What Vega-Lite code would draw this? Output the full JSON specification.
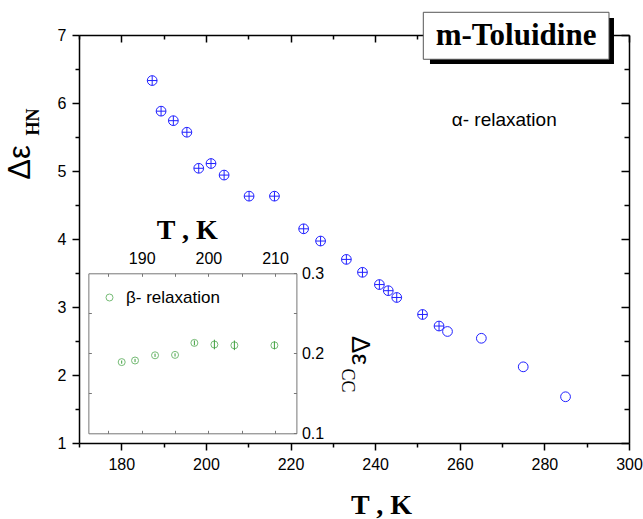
{
"$schema":"https://vega.github.io/schema/vega-lite/v6.json",
"width":550,"height":408,"autosize":{"type":"none"},
"padding":{"left":79,"top":35,"right":14,"bottom":76},
"background":"white",
"config":{"view":{"stroke":null},"font":"Liberation Sans","axis":{"grid":false,"labelFont":"Liberation Sans","labelColor":"black","domainColor":"black","tickColor":"black","labelFlush":false,"labelOverlap":false,"titleColor":"black"}},
"datasets":{
"alpha":[
{"T":187.3,"eps":6.33,"series":"1"},{"T":189.4,"eps":5.88,"series":"1"},{"T":192.3,"eps":5.74,"series":"1"},{"T":195.5,"eps":5.57,"series":"1"},{"T":198.3,"eps":5.04,"series":"1"},{"T":201.2,"eps":5.11,"series":"1"},{"T":204.3,"eps":4.94,"series":"1"},{"T":210.2,"eps":4.63,"series":"1"},{"T":216.2,"eps":4.63,"series":"1"},{"T":223.1,"eps":4.15,"series":"1"},{"T":227.1,"eps":3.97,"series":"1"},{"T":233.2,"eps":3.70,"series":"1"},{"T":237.0,"eps":3.51,"series":"1"},{"T":241.0,"eps":3.33,"series":"1"},{"T":243.1,"eps":3.24,"series":"1"},{"T":245.1,"eps":3.14,"series":"1"},{"T":251.2,"eps":2.89,"series":"1"},{"T":255.1,"eps":2.72,"series":"1"},{"T":257.1,"eps":2.64,"series":"2"},{"T":265.1,"eps":2.54,"series":"2"},{"T":275.0,"eps":2.12,"series":"2"},{"T":285.0,"eps":1.68,"series":"2"}
],
"beta":[
{"T":187.0,"eps":0.189,"err":0.002,"series":"β- relaxation"},{"T":189.0,"eps":0.191,"err":0.002,"series":"β- relaxation"},{"T":192.0,"eps":0.1975,"err":0.002,"series":"β- relaxation"},{"T":195.0,"eps":0.198,"err":0.002,"series":"β- relaxation"},{"T":197.9,"eps":0.213,"err":0.003,"series":"β- relaxation"},{"T":200.9,"eps":0.211,"err":0.006,"series":"β- relaxation"},{"T":203.9,"eps":0.210,"err":0.006,"series":"β- relaxation"},{"T":209.9,"eps":0.210,"err":0.005,"series":"β- relaxation"}
]
},
"layer":[
{"data":{"values":[{}]},"mark":{"type":"point","opacity":0},
 "encoding":{
  "x":{"datum":170,"type":"quantitative","scale":{"domain":[170,300],"nice":false,"zero":false},
    "axis":{"orient":"bottom","values":[170,180,190,200,210,220,230,240,250,260,270,280,290,300],"labelExpr":"datum.value % 20 === 0 ? format(datum.value,'d') : ''","tickSize":{"condition":{"test":"datum.value % 20 === 0","value":7},"value":4},"labelPadding":6,"labelFontSize":16,"domainWidth":1.5,"tickWidth":1.5,"title":"T , K","titleFont":"Liberation Serif","titleFontSize":28,"titleFontWeight":"bold","titleX":302,"titleY":70,"titleAlign":"center","titleBaseline":"alphabetic"}},
  "y":{"datum":1,"type":"quantitative","scale":{"domain":[1,7],"nice":false,"zero":false},
    "axis":{"orient":"left","values":[1,1.5,2,2.5,3,3.5,4,4.5,5,5.5,6,6.5,7],"labelExpr":"datum.value % 1 === 0 ? format(datum.value,'d') : ''","tickSize":{"condition":{"test":"datum.value % 1 === 0","value":7},"value":4},"labelPadding":6,"labelFontSize":16,"domainWidth":1.5,"tickWidth":1.5,"title":"Δε","titleFont":"Liberation Sans","titleFontSize":31,"titleFontWeight":"normal","titleAngle":270,"titleX":-59,"titleY":127,"titleAlign":"center","titleBaseline":"middle"}}
 }},
{"data":{"values":[{}]},"mark":{"type":"point","opacity":0},
 "encoding":{
  "x":{"datum":170,"type":"quantitative","scale":{"domain":[170,300],"nice":false,"zero":false},
    "axis":{"orient":"top","values":[170,180,190,200,210,220,230,240,250,260,270,280,290,300],"labels":false,"title":null,"domainWidth":1.5,"tickWidth":1.5,"tickSize":{"condition":{"test":"datum.value % 20 === 0","value":-7},"value":-4}}},
  "y":{"datum":1,"type":"quantitative","scale":{"domain":[1,7],"nice":false,"zero":false},
    "axis":{"orient":"right","values":[1,1.5,2,2.5,3,3.5,4,4.5,5,5.5,6,6.5,7],"labels":false,"title":null,"domainWidth":1.5,"tickWidth":1.5,"tickSize":{"condition":{"test":"datum.value % 1 === 0","value":-8},"value":-5}}}
 }},
{"data":{"values":[{}]},"mark":{"type":"point","opacity":0},
 "encoding":{
  "x":{"datum":190,"type":"quantitative","scale":{"domain":[182,213.2],"range":[9.36,217.4],"nice":false,"zero":false},
    "axis":{"orient":"top","offset":-238.3,"values":[185,190,195,200,205,210],"labelExpr":"datum.value % 10 === 0 ? format(datum.value,'d') : ''","tickSize":-3,"labelPadding":10,"labelFontSize":16,"domainColor":"#777777","tickColor":"#777777","domainWidth":1,"tickWidth":1,"title":"T , K","titleFont":"Liberation Serif","titleFontSize":28,"titleFontWeight":"bold","titleX":107.7,"titleY":-35,"titleAlign":"center","titleBaseline":"alphabetic"}},
  "y":{"datum":0.2,"type":"quantitative","scale":{"domain":[0.1,0.3],"range":[398.3,238.3],"nice":false,"zero":false},
    "axis":{"orient":"right","offset":-332.6,"values":[0.1,0.15,0.2,0.25,0.3],"labelExpr":"abs(datum.value*10-round(datum.value*10))<0.001 ? format(datum.value,'.1f') : ''","tickSize":-3,"labelPadding":8,"labelFontSize":16,"labelBaseline":"middle","domainColor":"#777777","tickColor":"#777777","domainWidth":1,"tickWidth":1,"title":null}}
 }},
{"data":{"values":[{}]},"mark":{"type":"point","opacity":0},
 "encoding":{
  "x":{"datum":190,"type":"quantitative","scale":{"domain":[182,213.2],"range":[9.36,217.4],"nice":false,"zero":false},
    "axis":{"orient":"bottom","offset":-9.7,"values":[185,190,195,200,205,210],"labels":false,"title":null,"tickSize":-3,"domainColor":"#777777","tickColor":"#777777","domainWidth":1,"tickWidth":1}},
  "y":{"datum":0.2,"type":"quantitative","scale":{"domain":[0.1,0.3],"range":[398.3,238.3],"nice":false,"zero":false},
    "axis":{"orient":"left","offset":-9.36,"values":[0.15,0.2,0.25],"labels":false,"title":null,"tickSize":-3,"domainColor":"#777777","tickColor":"#777777","domainWidth":1,"tickWidth":1}}
 }},
{"layer":[
 {"data":{"name":"alpha"},"mark":{"type":"point","filled":false,"size":95,"strokeWidth":1,"color":"#2020ff","opacity":1},
  "encoding":{
   "x":{"field":"T","type":"quantitative","scale":{"domain":[170,300],"nice":false,"zero":false},"axis":null},
   "y":{"field":"eps","type":"quantitative","scale":{"domain":[1,7],"nice":false,"zero":false},"axis":null},
   "shape":{"field":"series","type":"nominal","scale":{"domain":["1","2"],"range":["M-1,0A1,1,0,1,1,1,0A1,1,0,1,1,-1,0ZM-1,0L1,0M0,-1L0,1","circle"]},"legend":null}
  }},
 {"data":{"values":[{}]},"mark":{"type":"text","text":"α- relaxation","font":"Liberation Sans","fontSize":19,"align":"left","baseline":"alphabetic","color":"black"},
  "encoding":{"x":{"datum":258.1,"type":"quantitative","scale":{"domain":[170,300],"nice":false,"zero":false},"axis":null},"y":{"datum":5.662,"type":"quantitative","scale":{"domain":[1,7],"nice":false,"zero":false},"axis":null}}},
 {"data":{"values":[{}]},"mark":{"type":"rect","fill":"black"},
  "encoding":{"x":{"datum":252.96,"type":"quantitative","scale":{"domain":[170,300],"nice":false,"zero":false},"axis":null},"x2":{"datum":296.45},"y":{"datum":7.25,"type":"quantitative","scale":{"domain":[1,7],"nice":false,"zero":false},"axis":null},"y2":{"datum":6.574}}},
 {"data":{"values":[{}]},"mark":{"type":"rect","fill":"white","stroke":"#555555","strokeWidth":1},
  "encoding":{"x":{"datum":251.38,"type":"quantitative","scale":{"domain":[170,300],"nice":false,"zero":false},"axis":null},"x2":{"datum":295.27},"y":{"datum":7.334,"type":"quantitative","scale":{"domain":[1,7],"nice":false,"zero":false},"axis":null},"y2":{"datum":6.643}}},
 {"data":{"values":[{}]},"mark":{"type":"text","text":"m-Toluidine","font":"Liberation Serif","fontSize":31,"fontWeight":"bold","align":"center","baseline":"alphabetic","color":"black"},
  "encoding":{"x":{"datum":273.3,"type":"quantitative","scale":{"domain":[170,300],"nice":false,"zero":false},"axis":null},"y":{"datum":6.853,"type":"quantitative","scale":{"domain":[1,7],"nice":false,"zero":false},"axis":null}}},
 {"data":{"values":[{}]},"mark":{"type":"text","text":"HN","font":"Liberation Serif","fontSize":18,"fontWeight":"bold","align":"center","baseline":"middle","angle":270,"color":"black"},
  "encoding":{"x":{"datum":159.4,"type":"quantitative","scale":{"domain":[170,300],"nice":false,"zero":false},"axis":null},"y":{"datum":5.72,"type":"quantitative","scale":{"domain":[1,7],"nice":false,"zero":false},"axis":null}}}
]},
{"layer":[
  {"data":{"name":"beta"},"mark":{"type":"errorbar","color":"#3c9f3c","thickness":1},
   "encoding":{
    "x":{"field":"T","type":"quantitative","scale":{"domain":[182,213.2],"range":[9.36,217.4],"nice":false,"zero":false},"axis":null},
    "y":{"field":"eps","type":"quantitative","scale":{"domain":[0.1,0.3],"range":[398.3,238.3],"nice":false,"zero":false},"axis":null},
    "yError":{"field":"err"}}},
  {"data":{"name":"beta"},"mark":{"type":"point","filled":false,"size":49,"strokeWidth":1},
   "encoding":{
    "x":{"field":"T","type":"quantitative","scale":{"domain":[182,213.2],"range":[9.36,217.4],"nice":false,"zero":false},"axis":null},
    "y":{"field":"eps","type":"quantitative","scale":{"domain":[0.1,0.3],"range":[398.3,238.3],"nice":false,"zero":false},"axis":null},
    "color":{"field":"series","type":"nominal","scale":{"range":["#3c9f3c"]},
     "legend":{"orient":"none","legendX":22,"legendY":254,"title":null,"labelFont":"Liberation Sans","labelFontSize":17,"labelColor":"black","symbolSize":49,"symbolStrokeWidth":1,"symbolType":"circle","labelOffset":8,"padding":0}}}},
  {"data":{"values":[{}]},"mark":{"type":"text","text":"Δε","font":"Liberation Sans","fontSize":26,"align":"center","baseline":"middle","angle":90,"color":"black"},
   "encoding":{"x":{"datum":222.8,"type":"quantitative","scale":{"domain":[182,213.2],"range":[9.36,217.4],"nice":false,"zero":false},"axis":null},"y":{"datum":0.2035,"type":"quantitative","scale":{"domain":[0.1,0.3],"range":[398.3,238.3],"nice":false,"zero":false},"axis":null}}},
  {"data":{"values":[{}]},"mark":{"type":"text","text":"CC","font":"Liberation Serif","fontSize":18,"align":"center","baseline":"middle","angle":90,"color":"black"},
   "encoding":{"x":{"datum":220.8,"type":"quantitative","scale":{"domain":[182,213.2],"range":[9.36,217.4],"nice":false,"zero":false},"axis":null},"y":{"datum":0.166,"type":"quantitative","scale":{"domain":[0.1,0.3],"range":[398.3,238.3],"nice":false,"zero":false},"axis":null}}}
 ]}
],
"resolve":{"scale":{"x":"independent","y":"independent","color":"independent","shape":"independent"},"axis":{"x":"independent","y":"independent"}}
}
